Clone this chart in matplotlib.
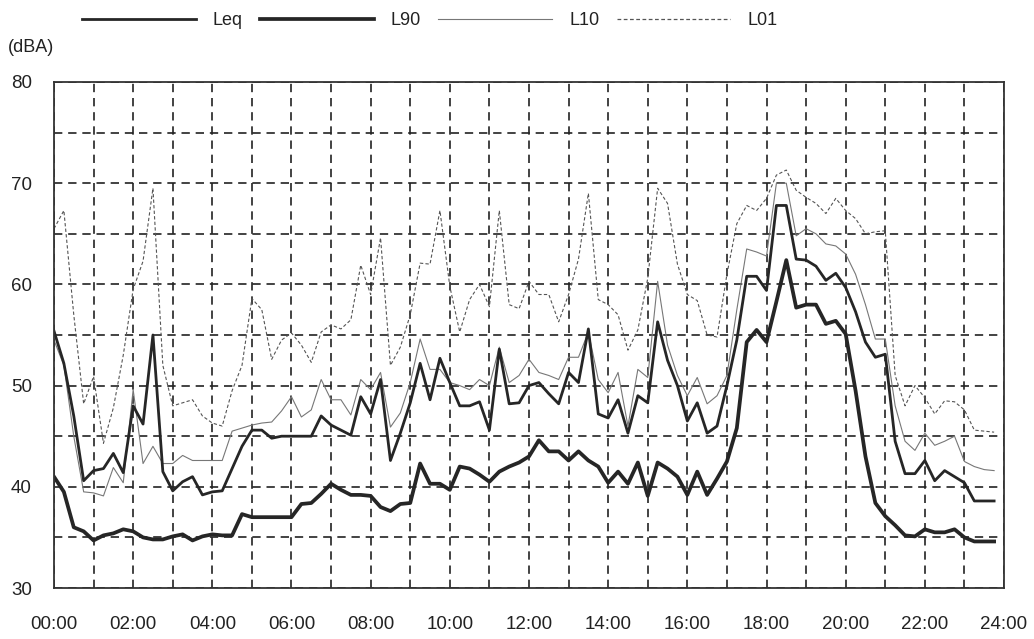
import numpy as np
import matplotlib
matplotlib.use("Agg")
import matplotlib.pyplot as plt
from matplotlib.lines import Line2D

plt.rcParams["font.family"] = ["Liberation Sans", "DejaVu Sans"]

# 15-minute readings, 00:00 .. 23:45
hours = np.arange(0, 24, 0.25)

leq = [
    55.4, 52.2, 47.0, 40.6, 41.6, 41.8, 43.3, 41.4, 48.0, 46.2, 55.0, 41.5,
    39.6, 40.5, 41.0, 39.2, 39.5, 39.6, 41.8, 44.0, 45.6, 45.6, 44.8, 45.0,
    45.0, 45.0, 45.0, 47.0, 46.1, 45.6, 45.1, 48.9, 47.2, 50.6, 42.6, 45.3,
    48.3, 52.2, 48.6, 52.7, 50.3, 48.0, 48.0, 48.4, 45.6, 53.6, 48.2, 48.3,
    50.0, 50.3, 49.2, 48.2, 51.3, 50.3, 55.6, 47.2, 46.8, 48.6, 45.3, 49.0,
    48.3, 56.3, 52.5, 50.0, 46.5, 48.3, 45.3, 46.0, 50.0, 54.5, 60.8, 60.8,
    59.4, 67.8, 67.8, 62.5, 62.4, 61.8, 60.4, 61.1, 59.7, 57.3, 54.3, 52.8,
    53.1, 44.5, 41.3, 41.3, 42.6, 40.6, 41.6, 41.0, 40.4, 38.6, 38.6, 38.6,
]

l90 = [
    41.0, 39.5, 36.0, 35.6, 34.7, 35.2, 35.4, 35.8, 35.6, 35.0, 34.8, 34.8,
    35.1, 35.3, 34.7, 35.1, 35.3, 35.2, 35.2, 37.3, 37.0, 37.0, 37.0, 37.0,
    37.0, 38.3, 38.4, 39.3, 40.3, 39.7, 39.2, 39.2, 39.1, 38.0, 37.6, 38.3,
    38.4, 42.3, 40.3, 40.3, 39.7, 42.0, 41.8, 41.2, 40.5, 41.5, 42.0, 42.4,
    43.0, 44.6, 43.5, 43.5, 42.6, 43.5, 42.6, 42.0, 40.4, 41.5, 40.3, 42.4,
    39.1, 42.4, 41.8, 41.0, 39.2, 41.5, 39.2, 40.8, 42.5, 45.8, 54.3, 55.5,
    54.3, 58.3, 62.4, 57.7, 58.0, 58.0, 56.1, 56.4, 55.1, 49.5, 43.0, 38.4,
    37.1, 36.2, 35.2, 35.1, 35.8, 35.5, 35.5, 35.8, 35.0, 34.6, 34.6, 34.6,
]

l10 = [
    54.5, 52.0, 45.0, 39.5, 39.4, 39.1, 41.9, 40.4, 49.6, 42.3, 44.0, 42.3,
    42.3, 43.1, 42.6, 42.6, 42.6, 42.6, 45.5, 45.8, 46.1, 46.3, 46.4, 47.5,
    48.9, 46.9, 47.6, 50.6, 48.6, 48.6, 47.1, 50.6, 49.6, 51.3, 45.9, 47.3,
    50.3, 54.6, 51.6, 51.6, 50.3, 50.0, 49.6, 50.6, 50.0, 53.8, 50.3, 51.0,
    52.6, 51.3, 51.0, 50.6, 52.8, 52.8, 55.3, 50.6, 49.3, 51.3, 46.0, 51.6,
    50.8, 60.3, 54.0, 51.0, 49.0, 50.8, 48.2, 49.0, 51.0, 57.5, 63.5, 63.2,
    62.8, 70.0, 70.0, 64.8, 65.5, 65.0, 64.0, 63.8, 63.0, 61.0, 58.0, 54.6,
    54.6, 48.0, 44.5, 43.6, 45.3, 44.1, 44.5, 45.0, 42.5, 42.0, 41.7, 41.6,
]

l01 = [
    65.5, 67.3, 57.0, 48.2, 50.9, 44.3, 47.8, 53.0, 59.5, 62.3, 69.5, 52.0,
    48.0, 48.3, 48.6, 47.0, 46.3, 46.0, 49.5, 52.0, 58.6, 57.5, 52.6, 54.5,
    55.2, 54.0, 52.3, 55.3, 56.0, 55.6, 56.5, 61.9, 59.0, 64.6, 52.0, 53.8,
    57.0, 62.1, 62.0, 67.3, 59.8, 55.3, 58.5, 60.0, 57.8, 67.3, 58.0, 57.6,
    60.3, 59.0, 59.0, 56.3, 59.0, 62.5, 69.0, 58.5, 58.0, 57.0, 53.5, 55.5,
    60.6, 69.5, 68.0, 62.0, 59.0, 58.4, 55.0, 54.8, 61.0, 66.0, 67.8, 67.3,
    68.5, 70.8, 71.3, 69.3, 68.6, 68.0, 67.0, 68.5, 67.3, 66.5, 65.0, 65.2,
    65.3, 51.0, 48.0, 50.0, 48.8, 47.2, 48.5, 48.4, 47.6, 45.6, 45.5, 45.4,
]

hour_ticks = list(range(0, 25, 2))
hour_labels = [f"{h:02d}:00" for h in hour_ticks]
db_ticks = [30, 40, 50, 60, 70, 80]

fig = plt.figure(figsize=(10.34, 6.39), dpi=100)
ax = fig.add_axes([0.0522, 0.0798, 0.9188, 0.7919])

ax.plot(hours, l01, color="#555555", lw=0.8, ls=(0, (3, 2)), label="L01")
ax.plot(hours, l10, color="#777777", lw=0.8, label="L10")
ax.plot(hours, l90, color="#262626", lw=2.7, label="L90")
ax.plot(hours, leq, color="#262626", lw=2.0, label="Leq")

ax.set_xlim(0, 24)
ax.set_ylim(30, 80)
ax.set_xticks(hour_ticks)
ax.set_xticklabels(hour_labels)
ax.set_xticks(range(0, 25), minor=True)
ax.set_yticks(db_ticks)
ax.set_yticks(range(30, 81, 5), minor=True)
ax.tick_params(which="both", length=0)
ax.tick_params(axis="x", pad=20, labelsize=13.5, labelcolor="#222222")
ax.tick_params(axis="y", pad=16, labelsize=13.5, labelcolor="#222222")
ax.grid(which="both", color="#222222", lw=1.2, ls=(0, (5, 3.5)))
for s in ax.spines.values():
    s.set_linewidth(1.3)
    s.set_color("#333333")

fig.text(8 / 1034, 1 - 47 / 639, "(dBA)", fontsize=13, color="#222222",
         ha="left", va="center")

handles = [
    Line2D([], [], color="#262626", lw=2.0),
    Line2D([], [], color="#262626", lw=2.7),
    Line2D([], [], color="#777777", lw=0.8),
    Line2D([], [], color="#555555", lw=0.9, ls=(0, (3, 2))),
]
fig.legend(handles, ["Leq", "L90", "L10", "L01"], ncol=4, frameon=False,
           loc="upper left", bbox_to_anchor=(82 / 1034, 1 - 12 / 639),
           borderpad=0, borderaxespad=0, fontsize=13, handlelength=6.3,
           handletextpad=0.95, columnspacing=0.95, labelcolor="#222222")

fig.savefig("out.png", dpi=100)
